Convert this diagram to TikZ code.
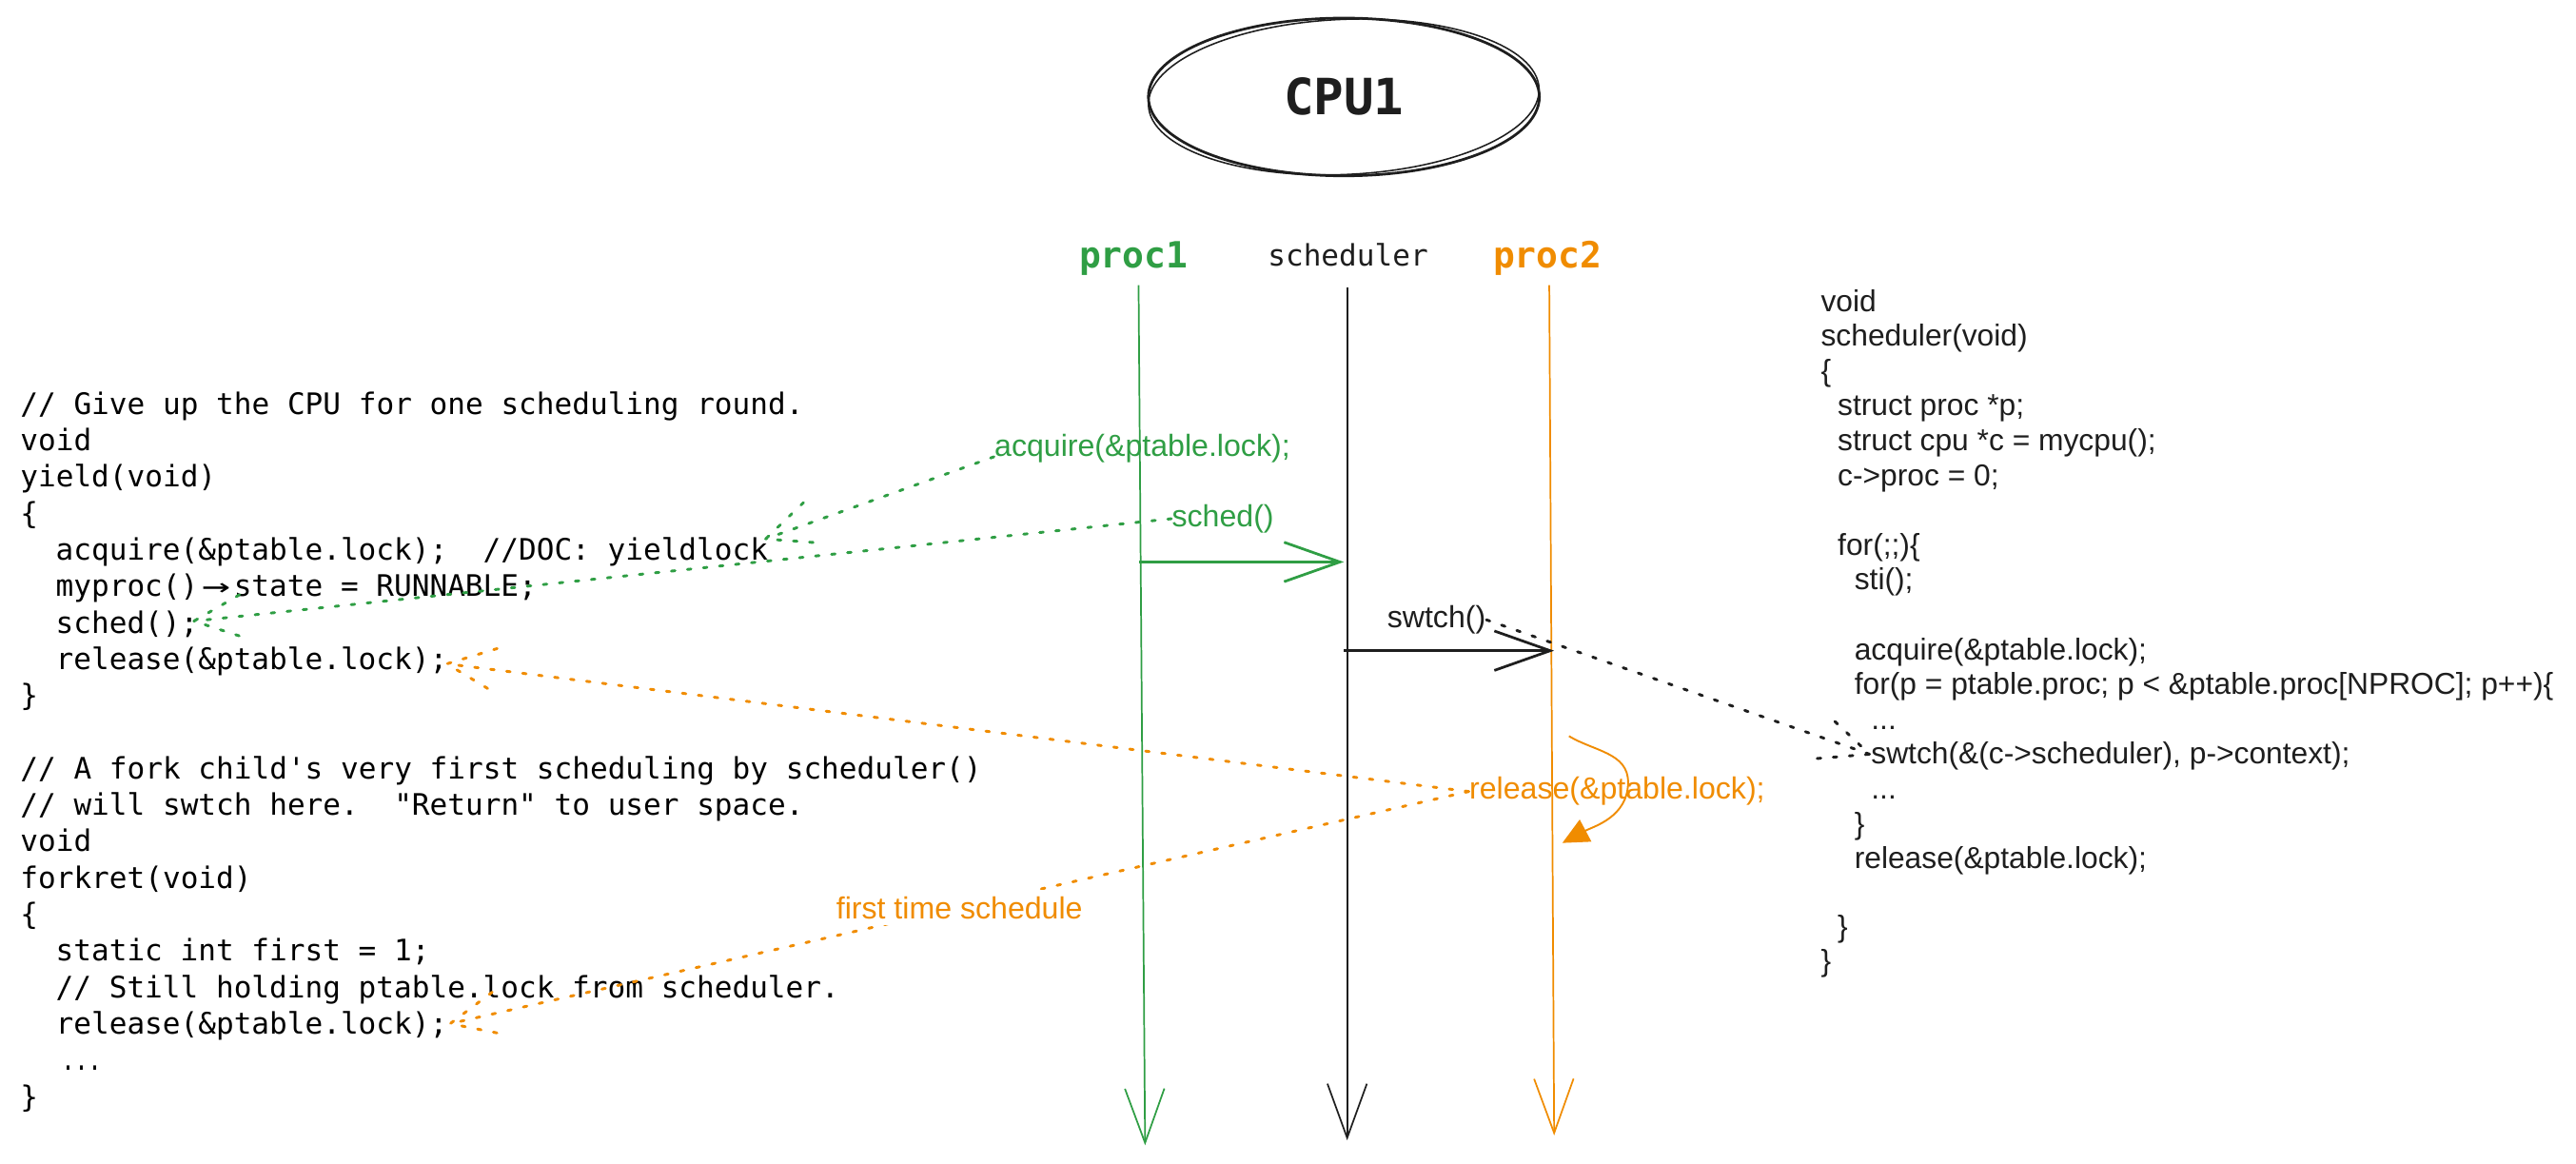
\documentclass[tikz,border=0pt]{standalone}
\usepackage{fontspec}
\usepackage{graphicx}
\setmainfont{Liberation Sans}
\newfontfamily\codefont{DejaVu Sans Mono}[Ligatures=TeXOff]
\usetikzlibrary{arrows.meta,calc,shapes.geometric}
\definecolor{ink}{HTML}{1E1E1E}
\definecolor{grn}{HTML}{2F9E44}
\definecolor{org}{HTML}{F08C00}
\frenchspacing
\tikzset{
  code/.style={anchor=base west, inner sep=0pt, text=black, font=\codefont\fontsize{9pt}{11pt}\selectfont},
  helv/.style={anchor=base west, inner sep=0pt, text=ink, font=\fontsize{9.2pt}{10.6pt}\selectfont},
  lbl/.style={anchor=base west, inner sep=0pt, font=\fontsize{9.3pt}{11pt}\selectfont},
  head/.style={anchor=base, inner sep=0pt},
  dots/.style={line width=0.85pt, line cap=round, dash pattern=on 1.1pt off 3.8pt},
  life/.style={line width=0.5pt, -{Straight Barb[length=16.5pt,width=12pt]}},
  msg/.style={line width=0.8pt, -{Straight Barb[length=17pt,width=12pt]}},
}
\newcommand\wings[3]{\draw[dots,#3] ($(#1)!16pt!24:(#2)$) -- (#1) -- ($(#1)!16pt!-24:(#2)$);}
\begin{document}
\begin{tikzpicture}[x=0.5pt,y=-0.5pt]
\fill[white] (0,0) rectangle (1568,708);
\useasboundingbox (0,0) rectangle (1568,708);

% title
\node[ellipse, draw=ink, line width=0.8pt, minimum width=119pt, minimum height=48pt, inner sep=0pt, text=ink,
      font=\codefont\bfseries\fontsize{15.2pt}{18pt}\selectfont] (cpu) at (818,59) {CPU1};
\draw[ink, line width=0.45pt, rotate around={2.5:(cpu.center)}] (cpu.center) ellipse [x radius=59.5pt, y radius=23.6pt];

% lifeline heads
\node[head, text=grn, font=\codefont\bfseries\fontsize{11pt}{13pt}\selectfont] (p1) at (690,163) {proc1};
\node[head, text=ink, font=\codefont\fontsize{9pt}{11pt}\selectfont] (sc) at (820.5,162) {scheduler};
\node[head, text=org, font=\codefont\bfseries\fontsize{11pt}{13pt}\selectfont] (p2) at (942,163) {proc2};

\coordinate (e1) at (697,697);
\coordinate (e2) at (820,694);
\coordinate (e3) at (946,691);
\draw[life, grn, shorten <=2.8pt] ([xshift=1.5pt]p1.south) -- (e1);
\draw[life, ink, shorten <=6pt] ([xshift=-0.25pt]sc.south) -- (e2);
\draw[life, org, shorten <=2.8pt] ([xshift=0.5pt]p2.south) -- (e3);

% messages
\coordinate (m1a) at (693.5,342);
\coordinate (m1b) at (818,342);
\coordinate (m2a) at (818,396);
\coordinate (m2b) at (946,396);
\draw[msg, grn] (m1a) -- (m1b);
\draw[msg, ink] (m2a) -- (m2b);

% left code
\node[code] (L0) at (12,252) {// Give up the CPU for one scheduling round.};
\node[code] (L1) at (12,274.2) {void};
\node[code] (L2) at (12,296.4) {yield(void)};
\node[code] (L3) at (12,318.6) {\{};
\node[code] (L4) at (33.6,340.8) {acquire(\&ptable.lock);\ \ //DOC: yieldlock};
\node[code] (L5) at (33.6,363) {myproc()\makebox[1.204em]{\scalebox{1.6}[1]{→}}state = RUNNABLE;};
\node[code] (L6) at (33.6,385.2) {sched();};
\node[code] (L7) at (33.6,407.4) {release(\&ptable.lock);};
\node[code] (L8) at (12,429.6) {\}};
\node[code] (L10) at (12,474) {// A fork child's very first scheduling by scheduler()};
\node[code] (L11) at (12,496.2) {// will swtch here.\ \ "Return" to user space.};
\node[code] (L12) at (12,518.4) {void};
\node[code] (L13) at (12,540.6) {forkret(void)};
\node[code] (L14) at (12,562.8) {\{};
\node[code] (L15) at (33.6,585) {static int first = 1;};
\node[code] (L16) at (33.6,607.2) {// Still holding ptable.lock from scheduler.};
\node[code] (L17) at (33.6,629.4) {release(\&ptable.lock);};
\node[code] (L18) at (37,651.6) {\scalebox{0.75}[1]{...}};
\node[code] (L19) at (12,673.8) {\}};

% right code
\node[helv] (R0) at (1108,189.5) {void};
\node[helv] (R1) at (1108,210.7) {scheduler(void)};
\node[helv] (R2) at (1108,231.9) {\{};
\node[helv] (R3) at (1118.2,253.1) {struct proc *p;};
\node[helv] (R4) at (1118.2,274.3) {struct cpu *c = mycpu();};
\node[helv] (R5) at (1118.2,295.5) {c->proc = 0;};
\node[helv] (R7) at (1118.2,337.9) {for(;;)\{};
\node[helv] (R8) at (1128.4,359.1) {sti();};
\node[helv] (R10) at (1128.4,401.5) {acquire(\&ptable.lock);};
\node[helv] (R11) at (1128.4,422.7) {for(p = ptable.proc; p < \&ptable.proc[NPROC]; p++)\{};
\node[helv] (R12) at (1138.6,443.9) {...};
\node[helv] (R13) at (1138.6,465.1) {swtch(\&(c->scheduler), p->context);};
\node[helv] (R14) at (1138.6,486.3) {...};
\node[helv] (R15) at (1128.4,507.5) {\}};
\node[helv] (R16) at (1128.4,528.7) {release(\&ptable.lock);};
\node[helv] (R18) at (1118.2,570.1) {\}};
\node[helv] (R19) at (1108,591.3) {\}};

% labels
\node[lbl, text=grn] (acq) at (605,278) {acquire(\&ptable.lock);};
\node[lbl, text=grn] (sch) at (713,320.5) {sched()};
\node[lbl, text=ink] (sw) at (844,382) {swtch()};
\node[lbl, text=org] (rel) at (894,486.5) {release(\&ptable.lock);};

% dotted connectors
\coordinate (tA) at (466,328);
\coordinate (tB) at (118,378);
\coordinate (tC) at (1138,459);
\coordinate (tD) at (272,404);
\coordinate (tE) at (274,623);
\draw[dots, grn] (acq.base west) -- (tA); \wings{tA}{acq.base west}{grn}
\draw[dots, grn] (sch.west) -- (tB); \wings{tB}{sch.west}{grn}
\draw[dots, ink] (sw.east) -- (tC); \wings{tC}{sw.east}{ink}
\draw[dots, org] (rel.west) -- (tD); \wings{tD}{rel.west}{org}
\draw[dots, org] (rel.west) -- node[pos=0.5, fill=white, inner sep=2pt, text=org, font=\fontsize{9.3pt}{11pt}\selectfont] (fts) {first time schedule} (tE);
\wings{tE}{rel.west}{org}

% orange self arrow
\coordinate (c1) at (955,448);
\coordinate (c2) at (951,513);
\draw[org, line width=0.55pt, -{Triangle[length=8pt,width=7.5pt]}] (c1) to[out=-31,in=90] (991,476) to[out=-90,in=28] (c2);
\end{tikzpicture}
\end{document}
